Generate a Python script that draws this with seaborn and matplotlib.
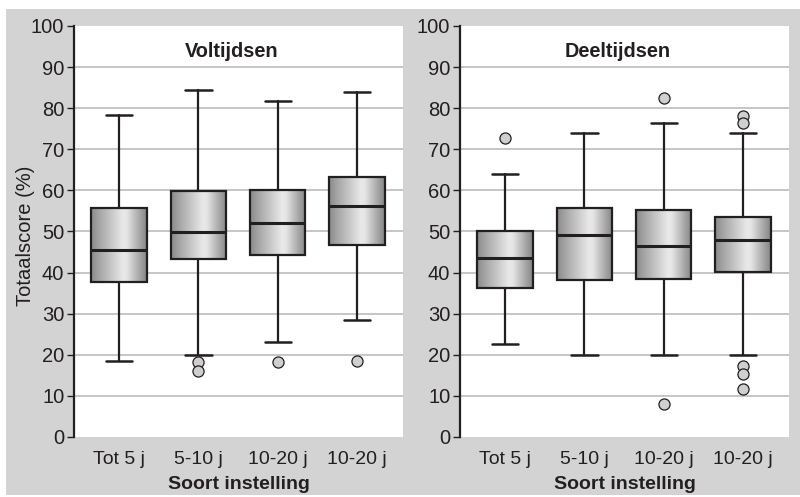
import numpy as np
import matplotlib
matplotlib.use("Agg")
import matplotlib.pyplot as plt
from matplotlib.patches import Rectangle
import seaborn as sns

categories = ["Tot 5 j", "5-10 j", "10-20 j", "10-20 j"]
panels = ["Voltijdsen", "Deeltijdsen"]

# five-number summaries per panel: whislo, q1, med, q3, whishi
volt_whislo = [18.5, 20.0, 23.2, 28.5]
volt_q1 = [37.8, 43.3, 44.3, 46.8]
volt_med = [45.6, 49.8, 52.1, 56.3]
volt_q3 = [55.7, 59.9, 60.1, 63.3]
volt_whishi = [78.3, 84.5, 81.8, 84.0]
volt_fliers = [[], [18.3, 16.1], [18.3], [18.6]]

deel_whislo = [22.7, 20.0, 20.0, 20.0]
deel_q1 = [36.3, 38.1, 38.5, 40.1]
deel_med = [43.5, 49.1, 46.5, 47.9]
deel_q3 = [50.2, 55.8, 55.2, 53.5]
deel_whishi = [63.9, 73.9, 76.5, 74.0]
deel_fliers = [[72.7], [], [82.4, 8.0], [78.1, 76.3, 17.3, 15.3, 11.6]]

sns.set_theme(style="white")
plt.rcParams['font.family'] = ['Liberation Sans', 'DejaVu Sans']

TXT = "#231f20"
W, H = 800, 497
fig = plt.figure(figsize=(W / 100, H / 100), dpi=100, facecolor="white")
bg = Rectangle((6 / W, 2 / H), (W - 6) / W, (495 - 9) / H,
               transform=fig.transFigure, facecolor="#d3d3d3",
               edgecolor="none", zorder=-10)
fig.patches.append(bg)

ax_l = fig.add_axes([74 / W, (H - 437) / H, (403 - 74) / W, 411 / H])
ax_r = fig.add_axes([460 / W, (H - 437) / H, (789 - 460) / W, 411 / H])

# horizontal gradient: dark edges, light near middle
xs = np.linspace(0, 1, 256)
prof = np.interp(xs, [0, 0.12, 0.57, 0.64, 0.9, 1.0],
                 [0.54, 0.63, 0.91, 0.90, 0.62, 0.52])
grad = np.tile(prof, (2, 1))


def stats_of(wl, q1, md, q3, wh, fl):
    out = []
    for i in range(len(md)):
        out.append(dict(whislo=wl[i], q1=q1[i], med=md[i], q3=q3[i],
                        whishi=wh[i], fliers=fl[i], label=categories[i]))
    return out


data = [
    stats_of(volt_whislo, volt_q1, volt_med, volt_q3, volt_whishi, volt_fliers),
    stats_of(deel_whislo, deel_q1, deel_med, deel_q3, deel_whishi, deel_fliers),
]

for ax, title, st in zip([ax_l, ax_r], panels, data):
    ax.set_facecolor("white")
    ax.set_ylim(0, 100)
    ax.set_xlim(-0.57, 3.58)
    ax.set_yticks(np.arange(0, 101, 10))
    for v in range(10, 100, 10):
        ax.axhline(v, color="#c6c6c6", lw=1.4, zorder=0.5)
    pos = np.arange(len(categories))
    res = ax.bxp(st, positions=pos, widths=0.7, patch_artist=True,
                 capwidths=0.33,
                 boxprops=dict(facecolor="none", edgecolor="#231f20", lw=1.6),
                 whiskerprops=dict(color="#231f20", lw=1.6),
                 capprops=dict(color="#231f20", lw=1.8),
                 medianprops=dict(color="#231f20", lw=2.2),
                 flierprops=dict(marker="o", markersize=8,
                                 markerfacecolor="#cfcfcf",
                                 markeredgecolor="#231f20",
                                 markeredgewidth=0.9))
    for p, s, box in zip(pos, st, res["boxes"]):
        im = ax.imshow(grad, cmap="gray", vmin=0, vmax=1, aspect="auto",
                       extent=(p - 0.35, p + 0.35, s["q1"], s["q3"]),
                       interpolation="bilinear", zorder=1.5)
        im.set_clip_path(box)
        box.set_zorder(2)
    for k in ("medians", "whiskers", "caps", "fliers"):
        for a in res[k]:
            a.set_zorder(3)
    ax.set_xlim(-0.57, 3.58)
    ax.set_ylim(0, 100)
    ax.set_xticks(pos)
    ax.set_xticklabels(categories)
    for s in ("top", "right", "bottom"):
        ax.spines[s].set_visible(False)
    ax.spines["left"].set_color("#231f20")
    ax.spines["left"].set_linewidth(1.6)
    ax.tick_params(axis="y", left=True, length=5, width=1, color="#231f20",
                   labelsize=14.5, labelcolor=TXT, pad=2)
    ax.tick_params(axis="x", bottom=False, labelsize=14, labelcolor=TXT, pad=4)
    ax.set_xlabel("Soort instelling", fontsize=14, fontweight="bold",
                  color=TXT, labelpad=6)
    ax.text(0.48, 0.937, title, transform=ax.transAxes, ha="center",
            va="center", fontsize=14.3, fontweight="bold", color=TXT)

ax_l.set_ylabel("Totaalscore (%)", fontsize=14.5, color=TXT)
ax_l.yaxis.set_label_coords(-0.118, 0.49)

fig.savefig("out.png", dpi=100, facecolor=fig.get_facecolor())
